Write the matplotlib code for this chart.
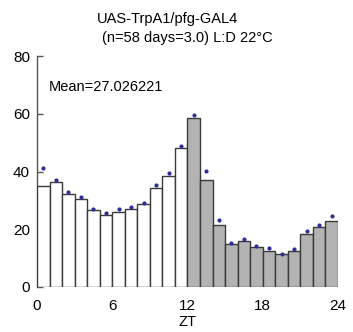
import numpy as np
import matplotlib
matplotlib.use('Agg')
import matplotlib.pyplot as plt

plt.rcParams['font.family'] = ['Liberation Sans', 'DejaVu Sans']

# Hourly activity (bars) and dots, ZT 0..23
zt = np.arange(24)
bar_vals = [35.0, 36.5, 32.1, 30.4, 26.6, 25.0, 26.0, 27.1, 28.7, 34.2, 38.4, 48.1,
            58.7, 37.0, 21.4, 14.9, 16.0, 13.8, 12.6, 11.3, 12.5, 18.3, 20.7, 22.8]
dot_vals = [41.2, 37.0, 32.8, 31.3, 27.1, 25.7, 27.1, 27.7, 29.1, 35.3, 39.5, 48.9,
            59.7, 40.2, 23.1, 15.4, 16.5, 14.3, 13.4, 11.6, 13.2, 19.4, 21.4, 24.5]
title1 = 'UAS-TrpA1/pfg-GAL4'
title2 = '(n=58 days=3.0) L:D 22\u00b0C'
mean_txt = 'Mean=27.026221'

W, H = 353, 332
fig = plt.figure(figsize=(W / 100, H / 100), dpi=100)
ax = fig.add_axes([37 / W, (H - 287) / H, 301 / W, 231 / H])

colors = ['white' if h < 12 else '#b3b3b3' for h in zt]
ax.bar(zt, bar_vals, width=1.0, align='edge', color=colors,
       edgecolor='#3a3a3a', linewidth=1.0, zorder=2)
ax.plot(zt + 0.5, dot_vals, 'o', color='#2e2e96', markersize=3,
        markeredgewidth=0, zorder=3)

ax.set_xlim(0, 24)
ax.set_ylim(0, 80)
ax.set_xticks([0, 6, 12, 18, 24])
ax.set_yticks([0, 20, 40, 60, 80])
ax.set_axisbelow(True)
ax.tick_params(axis='y', direction='in', length=4, width=1, color='#555555',
               labelsize=11, pad=5)
ax.tick_params(axis='x', length=0, labelsize=11, pad=9)
for s in ['top', 'right', 'bottom']:
    ax.spines[s].set_visible(False)
ax.spines['left'].set_color('#555555')
ax.spines['left'].set_linewidth(1.0)
ax.spines['left'].set_zorder(1)
ax.set_xlabel('ZT', fontsize=10.5, labelpad=1)

ax.text(49 / W, 1 - 91 / H, mean_txt, transform=fig.transFigure,
        fontsize=10.5, va='baseline', ha='left')
fig.text(167.5 / W, 1 - 23 / H, title1, fontsize=10.5, ha='center', va='baseline')
fig.text(187.5 / W, 1 - 42 / H, title2, fontsize=10.5, ha='center', va='baseline')

fig.savefig('out.png', dpi=100)
